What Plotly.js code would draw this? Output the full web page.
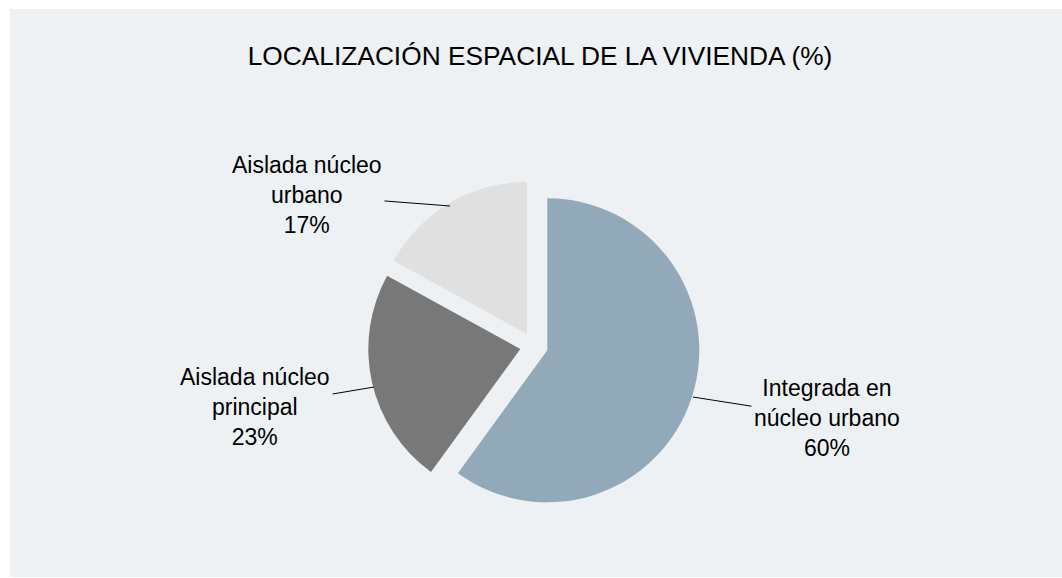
<!DOCTYPE html>
<html>
<head>
<meta charset="utf-8">
<script src="https://cdn.plot.ly/plotly-3.0.1.min.js"></script>
<style>
  html, body { margin: 0; padding: 0; background: #ffffff; }
  #plot { width: 1062px; height: 578px; }
</style>
</head>
<body>
<div id="plot"></div>
<script>
// Data
let categories = ["Integrada en núcleo urbano", "Aislada núcleo principal", "Aislada núcleo urbano"];
let values = [60, 23, 17];
// Label text as wrapped in the original
let labelLines = ["Integrada en<br>núcleo urbano", "Aislada núcleo<br>principal", "Aislada núcleo<br>urbano"];
let colors = ["#91a9b8", "#787878", "#e0e0e0"];

// Where each label sits (paper coords of leader end, pixel offset of text)
let leaderEnd = [[0.6525, 0.3131], [0.3522, 0.3304], [0.4237, 0.6436]];
let textOffset = [[134, 21], [-119, 20], [-143, -11]];

let trace = {
  type: "pie",
  labels: categories,
  values: values,
  sort: false,
  direction: "clockwise",
  rotation: 0,
  pull: [0.092, 0.092, 0.092],
  marker: { colors: colors, line: { width: 0 } },
  textinfo: "none",
  hoverinfo: "label+percent",
  showlegend: false,
  domain: { x: [0.3465, 0.6591], y: [0.1142, 0.6886] }
};

let annotations = categories.map((c, i) => ({
  xref: "paper",
  yref: "paper",
  x: leaderEnd[i][0],
  y: leaderEnd[i][1],
  ax: textOffset[i][0],
  ay: textOffset[i][1],
  text: labelLines[i] + "<br>" + values[i] + "%",
  showarrow: true,
  arrowhead: 0,
  arrowwidth: 1,
  arrowcolor: "#000000",
  standoff: 0,
  borderpad: 2,
  align: "center",
  font: { family: "Liberation Sans, Arial, sans-serif", size: 23, color: "#000000" }
}));

let layout = {
  width: 1062,
  height: 578,
  margin: { l: 0, r: 0, t: 0, b: 0 },
  paper_bgcolor: "#ffffff",
  title: {
    text: "LOCALIZACIÓN ESPACIAL DE LA VIVIENDA (%)",
    font: { family: "Liberation Sans, Arial, sans-serif", size: 26.3, color: "#000000" },
    xref: "paper",
    yref: "paper",
    x: 0.5085,
    xanchor: "center",
    y: 0.904,
    yanchor: "middle"
  },
  shapes: [{
    type: "rect",
    xref: "paper",
    yref: "paper",
    x0: 0.0094, x1: 1,
    y0: 0.0017, y1: 0.9844,
    fillcolor: "#edf1f4",
    line: { width: 0 },
    layer: "below"
  }],
  annotations: annotations
};

Plotly.newPlot("plot", [trace], layout, { displayModeBar: false });
</script>
</body>
</html>
